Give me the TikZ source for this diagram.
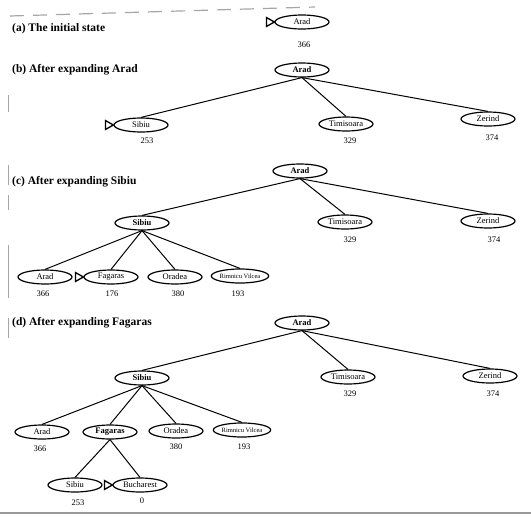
\documentclass[tikz,border=0pt]{standalone}
\usepackage{fontspec}
\setmainfont{Liberation Serif}
\usetikzlibrary{shapes.geometric}
\tikzset{
  st/.style={ellipse, draw, line width=1.2pt, minimum width=54pt, minimum height=14pt, inner sep=0pt, font=\fontsize{8.5}{9}\selectfont},
  ex/.style={st, font=\fontsize{8.5}{9}\selectfont\bfseries},
  val/.style={font=\fontsize{8.5}{9}\selectfont, inner sep=0pt},
  ttl/.style={anchor=west, font=\fontsize{11.5}{13}\selectfont\bfseries, inner sep=0pt},
  edge/.style={line width=1pt},
  mk/.style={line width=1.3pt, line join=miter}
}
\newcommand{\marker}[1]{\draw[mk] ([xshift=-8pt,yshift=-4.5pt]#1.west) -- (#1.west) -- ([xshift=-8pt,yshift=4.5pt]#1.west) -- cycle;}
\begin{document}
\begin{tikzpicture}[x=1pt,y=-1pt]
\useasboundingbox (0,0) rectangle (531,517);
% scan border marks
\draw[gray!70, line width=1.2pt, dash pattern=on 14pt off 9pt] (10,16) -- (315,7);
\draw[gray!80, line width=1.6pt] (0,513) -- (531,513);
\draw[gray!70, line width=1pt] (8,95) -- (8,112) (8,165) -- (8,185) (8,195) -- (8,210) (8,245) -- (8,298) (8,318) -- (8,338);

% (a)
\node[ttl] (ta) at (12,29) {(a) The initial state};
\node[st] (a0) at (302,22) {Arad};
\node[val] at (304,45) {366};
\marker{a0}

% (b)
\node[ttl] (tb) at (12,70) {(b) After expanding Arad};
\node[ex] (b0) at (302,70) {Arad};
\node[st] (b1) at (141,125) {Sibiu};
\node[st] (b2) at (346,124) {Timisoara};
\node[st] (b3) at (488,119) {Zerind};
\node[val] at (147,141) {253};
\node[val] at (350,141) {329};
\node[val] at (492,138) {374};
\marker{b1}
\foreach \c in {b1,b2,b3} \draw[edge] (b0.south) -- (\c.north);

% (c)
\node[ttl] (tc) at (12,182) {(c) After expanding Sibiu};
\node[ex] (c0) at (300,171) {Arad};
\node[ex] (c1) at (142,223) {Sibiu};
\node[st] (c2) at (345,222) {Timisoara};
\node[st] (c3) at (488,221) {Zerind};
\node[val] at (350,240) {329};
\node[val] at (494,240) {374};
\foreach \c in {c1,c2,c3} \draw[edge] (c0.south) -- (\c.north);
\node[st] (c4) at (45,277) {Arad};
\node[st] (c5) at (111,277) {Fagaras};
\node[st] (c6) at (175,277) {Oradea};
\node[st, font=\fontsize{6.5}{7}\selectfont] (c7) at (240,276) {Rimnicu Vilcea};
\node[val] at (43,294) {366};
\node[val] at (112,294) {176};
\node[val] at (178,294) {380};
\node[val] at (238,294) {193};
\marker{c5}
\foreach \c in {c4,c5,c6,c7} \draw[edge] (c1.south) -- (\c.north);

% (d)
\node[ttl] (td) at (12,323) {(d) After expanding Fagaras};
\node[ex] (d0) at (302,323) {Arad};
\node[ex] (d1) at (142,378) {Sibiu};
\node[st] (d2) at (348,377) {Timisoara};
\node[st] (d3) at (490,376) {Zerind};
\node[val] at (350,394) {329};
\node[val] at (493,394) {374};
\foreach \c in {d1,d2,d3} \draw[edge] (d0.south) -- (\c.north);
\node[st] (d4) at (42,432) {Arad};
\node[ex] (d5) at (110,432) {Fagaras};
\node[st] (d6) at (176,431) {Oradea};
\node[st, font=\fontsize{6.5}{7}\selectfont] (d7) at (242,430) {Rimnicu Vilcea};
\node[val] at (40,449) {366};
\node[val] at (176,447) {380};
\node[val] at (244,447) {193};
\foreach \c in {d4,d5,d6,d7} \draw[edge] (d1.south) -- (\c.north);
\node[st] (d8) at (75,485) {Sibiu};
\node[st] (d9) at (140,485) {Bucharest};
\node[val] at (78,503) {253};
\node[val] at (142,501) {0};
\marker{d9}
\foreach \c in {d8,d9} \draw[edge] (d5.south) -- (\c.north);
\end{tikzpicture}
\end{document}
